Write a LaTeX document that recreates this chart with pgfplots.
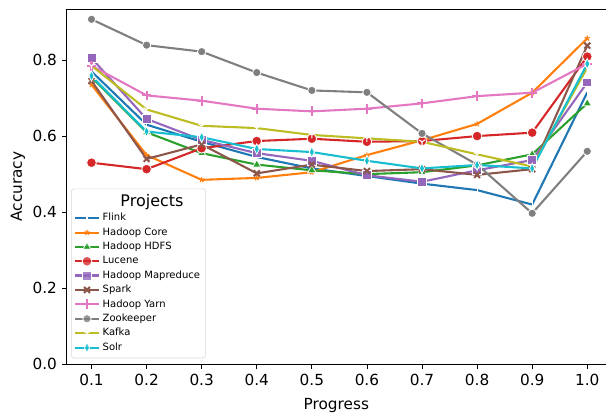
\documentclass[border=0pt]{standalone}
\usepackage{pgfplots}
\pgfplotsset{compat=1.18}
\usepackage{fontspec}
\setmainfont{DejaVu Sans}
\usetikzlibrary{calc,plotmarks}
\definecolor{c0}{HTML}{1F77B4}
\definecolor{c1}{HTML}{FF7F0E}
\definecolor{c2}{HTML}{2CA02C}
\definecolor{c3}{HTML}{D62728}
\definecolor{c4}{HTML}{9467BD}
\definecolor{c5}{HTML}{8C564B}
\definecolor{c6}{HTML}{E377C2}
\definecolor{c7}{HTML}{7F7F7F}
\definecolor{c8}{HTML}{BCBD22}
\definecolor{c9}{HTML}{17BECF}
\begin{document}
\begin{tikzpicture}
\begin{axis}[name=ax,
  scale only axis, width=388pt, height=255.6pt,
  xmin=0.055, xmax=1.034, ymin=0, ymax=0.934,
  axis lines=left, axis line style={-, line width=0.6pt},
  tick align=outside, major tick length=3.5pt,
  tick style={line width=0.6pt, black},
  xtick={0.1,0.2,0.3,0.4,0.5,0.6,0.7,0.8,0.9,1.0},
  ytick={0,0.2,0.4,0.6,0.8},
  /pgf/number format/assume math mode=true,
  /pgf/number format/fixed, /pgf/number format/fixed zerofill, /pgf/number format/precision=1,
  ticklabel style={font=\fontsize{11}{13}\selectfont},
  xlabel={Progress}, ylabel={Accuracy},
  label style={font=\fontsize{11}{13}\selectfont},
  xlabel style={yshift=-2pt},
  ylabel style={yshift=-1.5pt},
  every axis plot/.append style={line width=1.5pt},
  legend style={at={(0.008,0.017)}, anchor=south west, draw=black!15, rounded corners=2pt,
    fill=white, fill opacity=0.8, text opacity=1, font=\fontsize{7.2}{8.5}\selectfont,
    row sep=-0.6pt, inner sep=2pt},
  legend cell align=left,
  legend image code/.code={\draw[mark repeat=2,mark phase=2,#1] plot coordinates {(0cm,0cm) (0.3cm,0cm) (0.6cm,0cm)};},
]
\addlegendimage{empty legend}
\addlegendentry{\hspace{0.45cm}\fontsize{11.5}{13}\selectfont Projects}
\addplot[c0, mark=|, mark size=3pt, mark options={draw=white, line width=0.8pt}] coordinates {(0.1,0.77)(0.2,0.63)(0.3,0.585)(0.4,0.545)(0.5,0.515)(0.6,0.495)(0.7,0.475)(0.8,0.458)(0.9,0.42)(1.0,0.715)};
\addlegendentry{Flink}
\addplot[c1, mark=star, mark size=2pt, mark options={draw=c1, line width=0.8pt}] coordinates {(0.1,0.735)(0.2,0.55)(0.3,0.485)(0.4,0.49)(0.5,0.505)(0.6,0.55)(0.7,0.589)(0.8,0.632)(0.9,0.714)(1.0,0.857)};
\addlegendentry{Hadoop Core}
\addplot[c2, mark=triangle*, mark size=3.5pt, mark options={fill=c2, draw=white, line width=0.6pt}] coordinates {(0.1,0.755)(0.2,0.61)(0.3,0.555)(0.4,0.525)(0.5,0.51)(0.6,0.5)(0.7,0.505)(0.8,0.523)(0.9,0.552)(1.0,0.686)};
\addlegendentry{Hadoop HDFS}
\addplot[c3, mark=*, mark size=3.5pt, mark options={fill=c3, draw=white, line width=0.6pt}] coordinates {(0.1,0.53)(0.2,0.513)(0.3,0.568)(0.4,0.587)(0.5,0.593)(0.6,0.585)(0.7,0.587)(0.8,0.6)(0.9,0.609)(1.0,0.809)};
\addlegendentry{Lucene}
\addplot[c4, mark=square*, mark size=3.2pt, mark options={fill=c4, draw=white, line width=0.6pt}] coordinates {(0.1,0.805)(0.2,0.645)(0.3,0.59)(0.4,0.555)(0.5,0.535)(0.6,0.497)(0.7,0.48)(0.8,0.51)(0.9,0.537)(1.0,0.741)};
\addlegendentry{Hadoop Mapreduce}
\addplot[c5, mark=x, mark size=3pt, mark options={draw=c5, line width=1.5pt}] coordinates {(0.1,0.745)(0.2,0.54)(0.3,0.578)(0.4,0.502)(0.5,0.525)(0.6,0.508)(0.7,0.513)(0.8,0.498)(0.9,0.513)(1.0,0.838)};
\addlegendentry{Spark}
\addplot[c6, mark=+, mark size=3.5pt, mark options={draw=c6, line width=1.5pt}] coordinates {(0.1,0.785)(0.2,0.707)(0.3,0.693)(0.4,0.672)(0.5,0.665)(0.6,0.672)(0.7,0.686)(0.8,0.705)(0.9,0.714)(1.0,0.79)};
\addlegendentry{Hadoop Yarn}
\addplot[c7, mark=*, mark size=3pt, mark options={fill=c7, draw=white, line width=0.6pt}] coordinates {(0.1,0.907)(0.2,0.839)(0.3,0.822)(0.4,0.767)(0.5,0.72)(0.6,0.715)(0.7,0.607)(0.8,0.525)(0.9,0.397)(1.0,0.56)};
\addlegendentry{Zookeeper}
\addplot[c8, mark=Mercedes star flipped, mark size=2.5pt, mark options={draw=white, line width=0.8pt}] coordinates {(0.1,0.785)(0.2,0.67)(0.3,0.627)(0.4,0.621)(0.5,0.603)(0.6,0.594)(0.7,0.585)(0.8,0.552)(0.9,0.52)(1.0,0.78)};
\addlegendentry{Kafka}
\addplot[c9, mark=diamond*, mark size=3.8pt, mark options={fill=c9, draw=white, line width=0.6pt, xscale=0.65}] coordinates {(0.1,0.758)(0.2,0.612)(0.3,0.597)(0.4,0.566)(0.5,0.558)(0.6,0.535)(0.7,0.515)(0.8,0.524)(0.9,0.515)(1.0,0.79)};
\addlegendentry{Solr}
\draw[line width=0.6pt] (rel axis cs:0,1) -- (rel axis cs:1,1);
\end{axis}
\pgfresetboundingbox
\path ($(ax.south west)+(-48pt,-36.7pt)$) rectangle ($(ax.north east)+(0,6.5pt)$);
\end{tikzpicture}
\end{document}
